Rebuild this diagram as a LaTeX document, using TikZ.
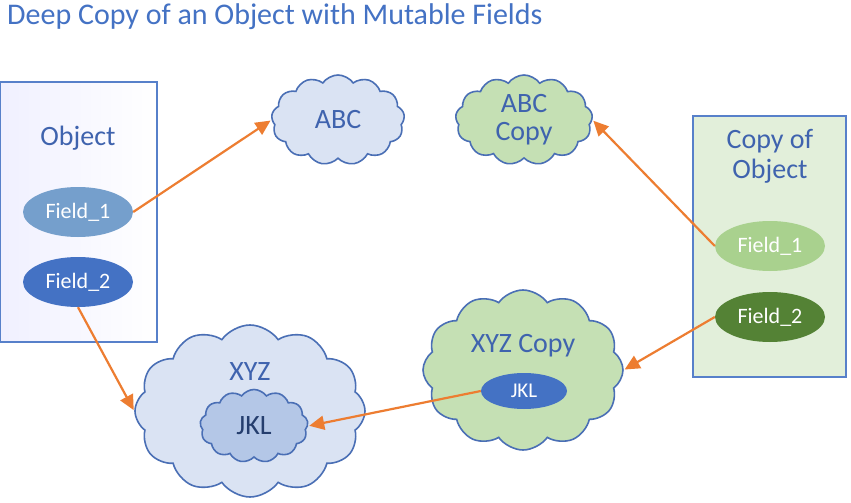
\documentclass[tikz,border=0pt]{standalone}
\usepackage{fontspec}
\setmainfont{Carlito}
\usetikzlibrary{shapes.symbols,shapes.geometric,arrows.meta}
\definecolor{tblue}{HTML}{4472C4}
\definecolor{lblue}{HTML}{DAE3F3}
\definecolor{mblue}{HTML}{B4C7E7}
\definecolor{f1blue}{HTML}{759FCC}
\definecolor{lgreen}{HTML}{C5E0B4}
\definecolor{boxgreen}{HTML}{E2EFDA}
\definecolor{f1green}{HTML}{A9D18E}
\definecolor{dgreen}{HTML}{548235}
\definecolor{edgeblue}{HTML}{4A6FB5}
\definecolor{txtblue}{HTML}{3F63AE}
\definecolor{darktxt}{HTML}{253E6E}
\definecolor{arr}{HTML}{ED7D31}
\tikzset{
  objbox/.style={draw=tblue!90!white, line width=1.6pt},
  field/.style={ellipse, draw=none, minimum width=110pt, minimum height=50pt, inner sep=0pt,
     text=white, font=\fontsize{22}{26}\selectfont},
  cloudnode/.style={cloud, draw=edgeblue, line width=1.6pt, inner sep=0pt, aspect=1.5, cloud puff arc=110},
  lbl/.style={text=txtblue, font=\fontsize{28}{33}\selectfont, align=center},
  ref/.style={draw=arr, line width=2.2pt, -{Triangle[length=15pt,width=14pt]}, shorten >=1pt},
}
\begin{document}
\begin{tikzpicture}[x=1pt,y=-1pt]
\useasboundingbox (0,0) rectangle (851,503);
\fill[white] (0,0) rectangle (851,503);
% title
\node[anchor=west, text=tblue, font=\fontsize{30}{34}\selectfont, inner sep=0pt] (title) at (7,17) {Deep Copy of an Object with Mutable Fields};
% Object box
\node[objbox, left color=blue!6!white, right color=white, minimum width=157pt, minimum height=260pt, inner sep=0pt] (obj) at (78.5,212) {};
\node[lbl] (objl) at (78,138) {Object};
\node[field, fill=f1blue] (f1) at (78,212) {Field\_1};
\node[field, fill=tblue] (f2) at (78,282) {Field\_2};
% Copy of object box
\node[objbox, fill=boxgreen, minimum width=153pt, minimum height=261pt, inner sep=0pt] (cobj) at (769.5,246.5) {};
\node[lbl] (cobjl) at (770,156) {Copy of\\[-3pt]Object};
\node[field, fill=f1green] (cf1) at (770,246) {Field\_1};
\node[field, fill=dgreen] (cf2) at (770,317) {Field\_2};
% clouds
\node[cloudnode, fill=lblue, cloud puffs=13, minimum width=133pt, minimum height=90pt] (abc) at (338,120) {};
\node[lbl] at (abc.center) {ABC};
\node[cloudnode, fill=lgreen, cloud puffs=13, minimum width=137pt, minimum height=90pt] (abcc) at (524,120) {};
\node[lbl] at (abcc.center) {ABC\\[-5pt]Copy};
\node[cloudnode, fill=lblue, cloud puffs=12, minimum width=230pt, minimum height=172pt] (xyz) at (250,411) {};
\node[lbl] (xyzl) at (250,372) {XYZ};
\node[cloudnode, fill=mblue, cloud puffs=13, minimum width=108pt, minimum height=73pt] (jkl) at (254,426) {};
\node[lbl, text=darktxt] at (jkl.center) {JKL};
\node[cloudnode, fill=lgreen, cloud puffs=12, minimum width=200pt, minimum height=160pt] (xyzc) at (523,370) {};
\node[lbl] (xyzcl) at (523,346) {XYZ Copy};
\node[ellipse, fill=tblue, minimum width=86pt, minimum height=36pt, inner sep=0pt, text=white, font=\fontsize{21}{24}\selectfont] (jkle) at (524,391) {JKL};
% arrows
\draw[ref] (f1.east) -- (abc.west);
\draw[ref] (f2.south) -- (xyz.west);
\draw[ref] (cf1.west) -- (abcc.east);
\draw[ref] (cf2.west) -- (xyzc.east);
\draw[ref] (jkle.west) -- (jkl.east);
\end{tikzpicture}
\end{document}
